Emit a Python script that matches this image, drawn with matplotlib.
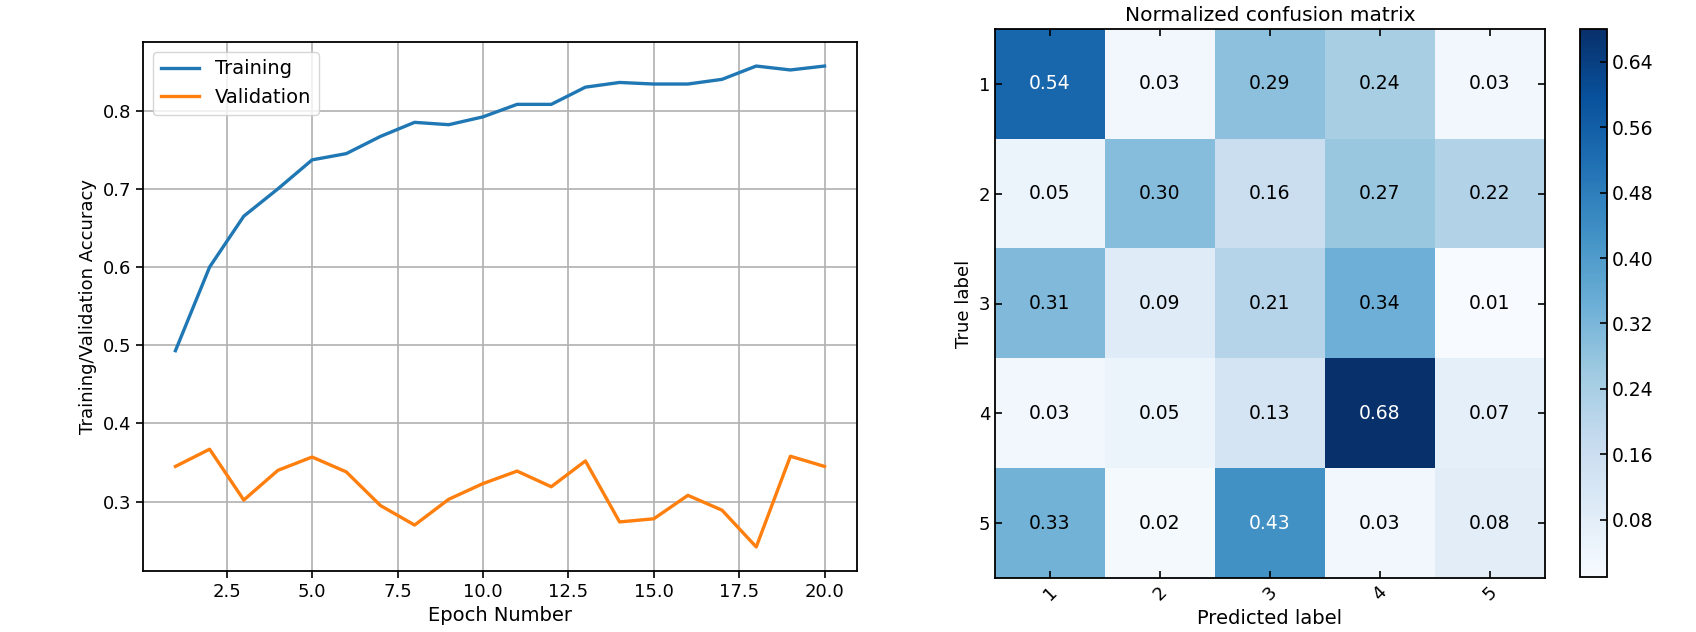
import numpy as np
import matplotlib
matplotlib.use("Agg")
import matplotlib.pyplot as plt

epochs = list(range(1, 21))
training = [0.493, 0.600, 0.665, 0.700, 0.737, 0.745, 0.767, 0.785, 0.782, 0.792,
            0.808, 0.808, 0.830, 0.836, 0.834, 0.834, 0.840, 0.857, 0.852, 0.857]
validation = [0.345, 0.367, 0.302, 0.340, 0.357, 0.338, 0.295, 0.270, 0.303, 0.323,
              0.339, 0.319, 0.352, 0.274, 0.278, 0.308, 0.289, 0.242, 0.358, 0.345]

class_labels = ["1", "2", "3", "4", "5"]
cm = np.array([
    [0.54, 0.03, 0.29, 0.24, 0.03],
    [0.05, 0.30, 0.16, 0.27, 0.22],
    [0.31, 0.09, 0.21, 0.34, 0.01],
    [0.03, 0.05, 0.13, 0.68, 0.07],
    [0.33, 0.02, 0.43, 0.03, 0.08],
])
cbar_ticks = [0.08, 0.16, 0.24, 0.32, 0.40, 0.48, 0.56, 0.64]

plt.rcParams['font.family'] = ['DejaVu Sans']
fs = 13
fl = 14

fig = plt.figure(figsize=(16.96, 6.32), dpi=100)

# Left: accuracy curves
ax1 = fig.add_axes([143/1696, 1-571/632, (857-143)/1696, (571-42)/632])
ax1.plot(epochs, training, color='#1f77b4', lw=2.4, label='Training')
ax1.plot(epochs, validation, color='#ff7f0e', lw=2.4, label='Validation')
ax1.grid(True, color='#b0b0b0', lw=1.2)
ax1.set_xlabel('Epoch Number', fontsize=fl)
ax1.set_ylabel('Training/Validation Accuracy', fontsize=fs)
ax1.tick_params(labelsize=fs, length=5, width=1.2)
for s in ax1.spines.values():
    s.set_linewidth(1.3)
ax1.legend(loc='upper left', fontsize=fl, framealpha=0.8)

# Right: confusion matrix
ax2 = fig.add_axes([995/1696, 1-578/632, (1545-995)/1696, (578-29)/632])
im = ax2.imshow(cm, cmap='Blues', interpolation='nearest', aspect='auto')
ax2.set_title('Normalized confusion matrix', fontsize=fl + 0.5)
ax2.set_xticks(range(len(class_labels)))
ax2.set_xticklabels(class_labels, rotation=45, fontsize=fs)
ax2.set_yticks(range(len(class_labels)))
ax2.set_yticklabels(class_labels, fontsize=fs)
ax2.tick_params(direction='in', top=True, right=True, length=5, width=1.2)
ax2.set_xlabel('Predicted label', fontsize=fl)
ax2.set_ylabel('True label', fontsize=fs)
for s in ax2.spines.values():
    s.set_linewidth(1.3)
thresh = cm.max() / 2.
for i in range(cm.shape[0]):
    for j in range(cm.shape[1]):
        ax2.text(j, i, f"{cm[i, j]:.2f}", ha='center', va='center', fontsize=fs + 0.5,
                 color='white' if cm[i, j] > thresh else 'black')

cax = fig.add_axes([1580/1696, 1-577/632, (1607-1580)/1696, (577-29)/632])
cb = fig.colorbar(im, cax=cax, ticks=cbar_ticks)
cb.ax.tick_params(direction='in', length=5, width=1.2, labelsize=fs + 0.5)
cb.ax.set_yticklabels([f"{t:.2f}" for t in cbar_ticks])
cb.outline.set_linewidth(1.3)

fig.savefig('out.png', dpi=100)
